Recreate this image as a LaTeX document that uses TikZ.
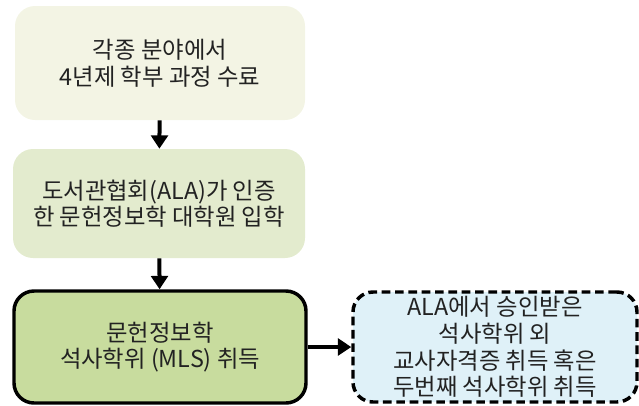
\documentclass[tikz,border=0pt]{standalone}
\usepackage{fontspec}
\setmainfont{Noto Sans CJK KR}
\usetikzlibrary{arrows.meta}
\definecolor{creamfill}{RGB}{243,244,228}
\definecolor{palegreen}{RGB}{227,235,206}
\definecolor{leafgreen}{RGB}{200,220,158}
\definecolor{skyfill}{RGB}{223,241,248}
\definecolor{inktext}{RGB}{34,34,34}
\tikzset{
	stage/.style={rounded corners=15pt, align=center, inner sep=0pt, text=inktext,
		font=\fontsize{17.5pt}{20pt}\selectfont},
	flow/.style={line width=3pt, -{Triangle[length=10pt,width=12.5pt]}},
}

\begin{document}
\begin{tikzpicture}[x=0.75pt,y=0.75pt,yscale=-1,xscale=1]
	\useasboundingbox (0,0) rectangle (639,405);
	% boxes
	\draw (160,63) node [stage, fill=creamfill, minimum width=217.5pt, minimum height=85.5pt] (undergrad) {각종 분야에서\\4년제 학부 과정 수료};
	\draw (159,203.5) node [stage, fill=palegreen, minimum width=219pt, minimum height=81.75pt] (admit) {도서관협회(ALA)가 인증\\한 문헌정보학 대학원 입학};
	\draw (160,347) node [stage, draw=black, line width=2.6pt, fill=leafgreen, minimum width=219pt, minimum height=84pt] (mls) {문헌정보학\\석사학위 (MLS) 취득};
	\draw (495,347) node [stage, draw=black, line width=2.6pt, dash pattern={on 6.5pt off 3.5pt}, fill=skyfill, minimum width=213pt, minimum height=82.5pt] (alt) {ALA에서 승인받은\\석사학위 외\\교사자격증 취득 혹은\\두번째 석사학위 취득};
	% arrows
	\draw [flow] (undergrad) -- (admit);
	\draw [flow] (admit) -- (mls);
	\draw [flow, line width=2.5pt] (mls) -- (alt);
\end{tikzpicture}
\end{document}
